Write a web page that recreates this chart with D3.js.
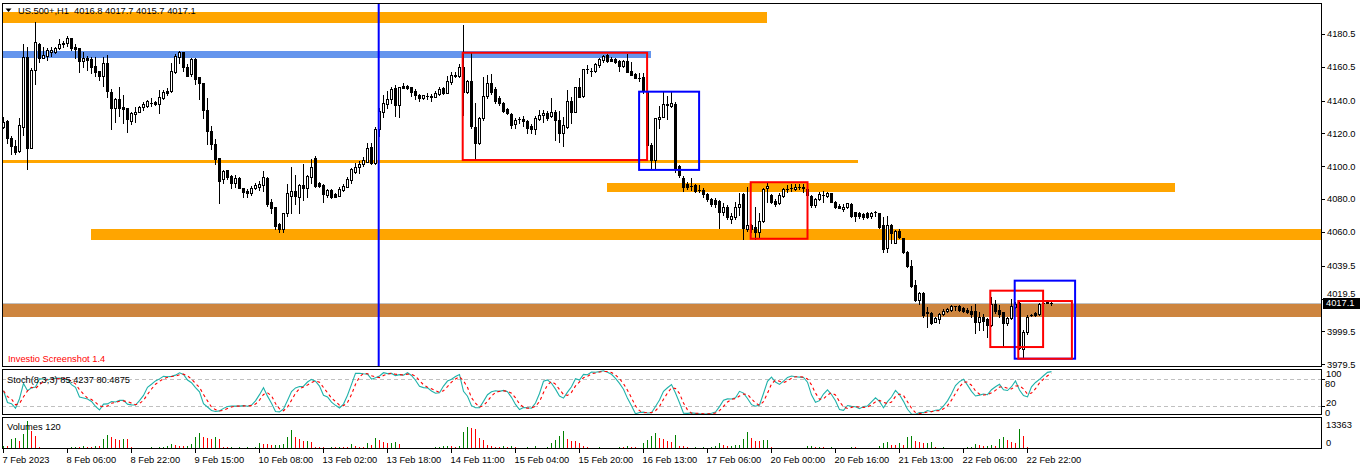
<!DOCTYPE html>
<html><head><meta charset="utf-8">
<script src="https://cdn.jsdelivr.net/npm/d3@7"></script>
<style>
html,body{margin:0;padding:0;background:#fff;}
svg{display:block;font-family:"Liberation Sans",Arial,sans-serif;}
</style></head>
<body><svg id="chart" width="1362" height="470"></svg>
<script>
// ---------------- DATA ----------------
const symbolTitle = "US.500+,H1  4016.8 4017.7 4015.7 4017.1";
const stochTitle = "Stoch(8,3,3) 85.4237 80.4875";
const volumeTitle = "Volumes 120";
const watermark = "Investio Screenshot 1.4";

const opens = [4123.9,4127.6,4117.0,4112.3,4109.3,4124.1,4166.3,4111.3,4158.6,4174.2,
4166.1,4167.3,4169.4,4169.4,4171.8,4174.8,4174.8,4177.9,4172.6,4171.8,
4164.3,4165.9,4165.5,4161.0,4158.0,4154.9,4162.7,4145.4,4135.7,4141.0,
4136.1,4135.3,4127.6,4132.0,4133.2,4136.1,4136.9,4138.5,4138.9,4138.1,
4141.7,4145.8,4145.8,4157.6,4166.7,4169.4,4160.6,4156.0,4165.3,4154.1,
4150.9,4134.3,4121.7,4113.6,4104.9,4092.1,4097.8,4094.1,4089.7,4093.1,
4087.0,4085.1,4083.9,4087.0,4087.6,4088.8,4092.7,4078.1,4075.0,4064.9,
4061.6,4071.4,4081.9,4085.1,4081.5,4088.4,4087.0,4093.7,4104.9,4089.7,
4088.6,4082.5,4085.6,4083.0,4081.9,4085.6,4087.6,4091.7,4096.7,4099.6,
4101.4,4102.8,4111.9,4101.8,4122.5,4133.2,4137.9,4141.0,4147.5,4137.3,
4148.9,4149.0,4148.1,4146.0,4143.4,4141.8,4142.6,4143.0,4142.4,4144.0,
4147.5,4144.8,4151.5,4155.1,4155.1,4160.6,4145.0,4151.9,4123.7,4114.0,
4129.2,4142.8,4150.9,4146.9,4141.4,4138.7,4134.7,4131.8,4125.5,4128.6,
4128.6,4127.6,4124.5,4122.5,4128.8,4131.0,4132.6,4130.6,4132.9,4128.2,
4120.4,4124.1,4139.7,4133.2,4148.1,4142.8,4158.9,4158.1,4158.2,4161.6,
4164.7,4167.7,4165.3,4165.3,4164.3,4161.0,4164.1,4158.0,4156.2,4153.9,
4154.5,4146.0,4113.0,4103.8,4128.8,4130.2,4137.7,4136.9,4137.9,4100.2,
4093.1,4089.0,4088.2,4088.6,4085.6,4085.6,4083.0,4080.1,4079.5,4078.9,
4072.4,4075.4,4067.9,4069.3,4075.0,4083.0,4061.8,4064.3,4063.2,4059.8,
4066.7,4086.6,4082.5,4079.1,4077.5,4081.9,4086.2,4086.8,4086.0,4087.5,
4087.6,4086.0,4081.9,4076.4,4080.1,4082.4,4082.1,4083.6,4078.5,4076.0,
4074.0,4075.4,4076.9,4072.0,4071.4,4070.8,4071.4,4069.8,4071.9,4071.4,
4064.3,4050.5,4064.3,4053.5,4060.8,4056.2,4048.0,4039.5,4027.8,4018.6,
4022.7,4011.5,4010.9,4005.4,4006.9,4009.9,4011.9,4012.5,4014.9,4015.0,
4013.6,4012.5,4011.9,4011.9,4005.4,4008.5,4006.9,4003.4,4016.0,4012.5,
4011.2,4004.5,4007.5,4014.6,4016.6,3988.8,3999.0,4009.4,4010.5,4009.9,
4016.9,4017.1,4016.8];

const highs = [4129.8,4128.0,4118.4,4116.0,4129.2,4174.2,4172.4,4159.6,4187.6,4174.8,
4172.4,4171.8,4172.6,4172.6,4177.5,4176.2,4179.5,4178.3,4174.2,4171.8,
4169.5,4166.9,4166.3,4166.3,4158.0,4166.5,4167.5,4147.0,4141.8,4148.4,
4143.4,4135.3,4133.2,4135.9,4136.9,4139.3,4140.3,4141.4,4139.9,4146.4,
4146.4,4147.5,4163.0,4168.2,4170.2,4169.7,4162.1,4165.7,4165.7,4154.5,
4150.9,4141.4,4124.5,4116.4,4104.9,4097.8,4097.8,4094.7,4094.7,4093.7,
4087.0,4086.0,4088.2,4089.7,4090.9,4097.3,4093.7,4079.9,4075.0,4065.3,
4071.4,4089.2,4099.8,4094.7,4089.0,4101.2,4094.7,4104.4,4106.3,4090.6,
4089.2,4086.0,4086.0,4083.6,4087.6,4089.0,4093.7,4099.2,4101.8,4103.2,
4105.7,4114.4,4114.0,4123.7,4135.3,4143.4,4145.8,4148.1,4149.5,4148.4,
4150.9,4149.5,4148.4,4146.9,4144.0,4143.6,4144.4,4144.0,4145.6,4148.4,
4148.4,4154.9,4157.6,4157.2,4162.2,4186.0,4152.3,4169.4,4138.3,4130.0,
4154.5,4155.6,4156.2,4148.4,4142.8,4139.1,4135.5,4132.3,4129.2,4129.8,
4130.6,4128.2,4125.7,4130.6,4134.3,4134.3,4133.6,4141.4,4134.3,4133.8,
4130.2,4146.4,4142.4,4148.4,4153.9,4159.4,4161.6,4159.6,4163.0,4165.7,
4167.7,4168.1,4166.7,4165.7,4164.7,4164.7,4168.3,4163.6,4156.6,4156.6,
4156.6,4147.5,4114.0,4129.6,4136.9,4145.4,4142.8,4145.4,4139.3,4100.8,
4094.3,4090.6,4092.7,4089.0,4088.6,4086.8,4083.6,4080.7,4080.5,4079.5,
4077.5,4076.4,4071.4,4078.5,4083.6,4083.6,4087.6,4064.6,4075.4,4071.4,
4086.6,4090.6,4083.1,4080.1,4083.6,4086.6,4088.6,4089.0,4089.2,4089.0,
4089.0,4086.2,4082.5,4080.9,4084.2,4085.0,4084.5,4083.9,4078.9,4076.9,
4076.9,4077.8,4077.5,4072.4,4072.4,4071.4,4072.4,4072.4,4072.8,4071.8,
4069.3,4069.8,4064.6,4061.2,4061.7,4056.5,4048.6,4043.0,4030.8,4023.7,
4023.3,4014.6,4011.5,4008.5,4010.5,4013.0,4013.6,4015.6,4015.0,4015.6,
4014.6,4013.6,4015.0,4016.0,4011.5,4009.9,4007.5,4020.3,4018.6,4015.6,
4011.5,4008.5,4019.1,4017.6,4017.6,4000.4,4009.5,4010.1,4011.5,4016.6,
4018.0,4018.6,4017.7];

const lows = [4123.3,4114.4,4107.3,4107.3,4108.9,4119.0,4098.2,4110.9,4149.9,4163.6,
4166.1,4164.7,4167.3,4168.8,4171.2,4172.8,4173.2,4171.0,4166.1,4157.2,
4160.6,4158.6,4157.0,4155.1,4152.5,4148.9,4142.0,4122.7,4127.1,4130.8,
4126.5,4121.1,4125.7,4127.1,4133.2,4134.4,4136.3,4136.9,4137.3,4132.6,
4140.8,4143.4,4145.4,4157.0,4162.7,4158.0,4155.1,4155.1,4149.9,4141.0,
4129.6,4113.4,4110.5,4101.4,4077.9,4089.7,4092.1,4086.6,4087.6,4087.0,
4081.5,4081.5,4082.5,4086.2,4085.6,4085.0,4076.0,4071.4,4061.8,4060.2,
4060.2,4069.9,4071.4,4077.0,4071.8,4079.5,4081.5,4089.7,4087.6,4087.2,
4078.5,4081.5,4080.9,4081.1,4081.9,4085.2,4087.2,4089.7,4095.7,4095.7,
4100.2,4102.6,4101.4,4101.4,4118.4,4130.2,4135.3,4138.7,4130.6,4130.2,
4147.5,4147.3,4142.8,4141.0,4139.7,4140.8,4140.8,4139.9,4142.0,4143.4,
4144.0,4144.4,4149.9,4154.2,4154.5,4131.2,4144.6,4123.3,4103.8,4113.6,
4128.2,4141.4,4144.0,4138.3,4137.3,4133.0,4131.8,4123.5,4123.1,4126.2,
4124.5,4120.4,4120.1,4119.5,4128.2,4127.1,4128.2,4130.2,4116.0,4115.0,
4112.4,4123.5,4126.2,4133.2,4142.0,4142.4,4156.6,4155.1,4157.6,4160.6,
4163.6,4163.6,4164.0,4163.0,4158.0,4160.6,4157.2,4155.4,4153.5,4152.1,
4144.8,4111.9,4098.4,4099.2,4123.5,4130.0,4128.8,4136.3,4096.7,4093.7,
4085.0,4086.0,4085.6,4084.5,4084.5,4081.3,4078.9,4075.8,4075.4,4062.3,
4070.4,4067.9,4065.3,4067.9,4070.4,4055.8,4060.6,4060.2,4055.6,4057.2,
4066.3,4078.5,4077.5,4076.0,4076.9,4081.5,4084.5,4085.0,4085.6,4086.0,
4084.2,4081.5,4075.4,4075.4,4079.5,4078.5,4081.5,4078.1,4074.4,4074.4,
4073.0,4074.4,4069.0,4066.7,4068.4,4067.9,4068.4,4068.4,4069.8,4062.3,
4047.7,4047.7,4053.5,4053.1,4056.5,4047.1,4038.9,4026.4,4018.0,4016.2,
4008.5,4002.0,4004.0,4005.1,4004.8,4009.5,4011.5,4011.9,4012.5,4012.1,
4011.2,4010.5,4008.5,3998.4,4000.4,4000.4,3996.3,4002.8,4010.5,4008.1,
3990.2,4003.4,4006.9,4013.6,3988.8,3983.2,3997.9,4008.9,4008.9,4009.5,
4015.6,4016.6,4015.7];

const closes = [4126.8,4117.0,4112.3,4108.9,4125.1,4166.3,4110.9,4158.6,4175.4,4165.7,
4167.7,4170.6,4170.8,4171.8,4174.6,4174.7,4177.9,4171.8,4171.2,4164.3,
4166.1,4164.9,4160.6,4157.2,4154.9,4162.7,4145.8,4135.7,4141.0,4135.7,
4135.0,4128.6,4132.3,4133.2,4136.3,4137.7,4139.7,4138.4,4138.1,4142.2,
4145.4,4144.4,4158.0,4167.1,4169.7,4160.6,4155.1,4165.3,4153.3,4150.5,
4134.3,4121.7,4113.4,4104.4,4091.2,4096.9,4093.7,4089.7,4093.1,4087.0,
4084.5,4083.9,4087.0,4088.8,4089.4,4093.7,4077.0,4074.8,4063.9,4061.6,
4071.4,4083.6,4085.1,4081.9,4088.6,4087.0,4094.1,4099.4,4088.2,4088.2,
4083.0,4085.6,4081.1,4081.5,4086.0,4088.2,4092.3,4098.4,4099.8,4101.4,
4103.8,4110.9,4102.2,4122.7,4133.6,4138.3,4141.0,4147.0,4137.3,4148.1,
4147.8,4147.5,4145.0,4143.4,4141.8,4143.2,4143.0,4142.0,4144.8,4147.0,
4144.8,4151.9,4155.6,4155.3,4160.6,4145.0,4151.9,4124.5,4114.0,4129.2,
4142.9,4150.5,4145.4,4139.7,4138.3,4133.6,4132.3,4125.1,4128.2,4128.5,
4127.6,4123.6,4122.5,4129.2,4131.2,4132.3,4129.6,4132.9,4128.2,4120.4,
4125.1,4139.7,4133.2,4148.1,4142.4,4159.0,4159.0,4158.2,4162.3,4165.1,
4167.1,4164.3,4164.3,4163.6,4161.0,4164.1,4157.6,4155.6,4153.9,4154.0,
4146.0,4113.0,4103.8,4129.2,4130.2,4137.7,4137.1,4138.7,4099.2,4094.7,
4087.6,4087.6,4088.3,4085.0,4085.7,4083.0,4080.1,4076.9,4076.9,4072.0,
4075.4,4069.3,4069.8,4075.4,4077.0,4062.3,4064.3,4061.8,4059.8,4066.7,
4086.2,4088.0,4078.5,4077.2,4082.5,4086.0,4086.3,4087.0,4087.6,4087.6,
4087.0,4082.5,4076.4,4080.1,4082.9,4082.5,4083.9,4078.5,4075.2,4074.8,
4075.4,4077.5,4069.8,4069.8,4069.9,4069.3,4069.0,4071.8,4072.0,4063.2,
4049.7,4064.3,4059.2,4060.6,4057.2,4047.7,4039.5,4027.3,4018.6,4022.7,
4009.5,4010.5,4004.8,4007.5,4009.9,4011.9,4013.0,4015.0,4015.0,4012.5,
4011.9,4011.2,4010.1,4005.4,4008.5,4006.0,4003.4,4016.0,4011.9,4010.1,
4004.5,4007.9,4015.0,4016.0,3989.2,3999.0,4008.5,4009.5,4009.5,4016.0,
4017.0,4017.2,4017.1];

const volumes = [1431,1193,4770,5104,3816,7155,13363,8252,5867,716,
477,490,470,510,382,477,450,716,954,811,
1193,954,716,1431,1193,4770,6678,5581,4627,4293,
4770,4627,716,477,572,477,620,716,620,954,
980,1431,2385,1908,1431,1193,1431,2385,5724,7632,
5581,5104,4770,5724,4770,954,716,730,572,716,
572,716,477,716,2862,2528,2242,1908,1950,2051,
2528,5581,9063,5581,4627,3816,3850,3482,954,716,
716,620,811,716,954,716,716,2385,1431,1097,
811,2862,1908,5247,4293,3482,2719,3005,3482,2385,
477,620,477,572,477,572,477,490,716,811,
1431,1450,1400,716,1431,8109,10494,10017,9540,5247,
4293,1908,1431,1097,954,1288,716,1193,716,477,
620,954,620,1193,620,477,716,2719,4293,6201,
8252,4627,3959,3673,2719,1193,716,477,620,716,
700,572,477,620,954,716,1193,954,716,620,
2719,4293,6201,7489,5104,4627,3959,3339,6678,1431,
1193,716,620,811,620,716,620,811,1193,2719,
1908,1431,1450,1670,1908,4770,7775,5390,3959,3673,
4293,4436,716,620,477,620,382,477,382,390,
477,1193,1431,954,1097,811,620,716,620,477,
620,477,954,811,477,620,477,620,477,1193,
3005,3050,1908,1765,2719,2051,5581,6201,3816,3482,
2719,3005,3482,716,620,716,572,620,477,620,
572,716,954,2385,1765,1431,1574,1908,1193,4770,
5581,4293,3482,3005,9540,6201,954,572,477,620,
382,334,239];

// time axis labels (one every 16 bars)
const timeLabels = ["7 Feb 2023","8 Feb 06:00","8 Feb 22:00","9 Feb 15:00","10 Feb 08:00",
"13 Feb 02:00","13 Feb 18:00","14 Feb 11:00","15 Feb 04:00","15 Feb 20:00","16 Feb 13:00",
"17 Feb 06:00","20 Feb 00:00","20 Feb 16:00","21 Feb 13:00","22 Feb 06:00","22 Feb 22:00"];
const labelEvery = 16;

// price axis labels
const priceTicks = [4180.5,4160.5,4140.0,4120.0,4100.0,4080.0,4060.0,4039.5,4019.5,3999.5,3979.5];
const lastPrice = 4017.1;
const stochLevels = [20, 80];
const stochAxisLabels = [100, 80, 20, 0];
const volumeTicks = [13363, 0];

// drawn objects: [bar from, bar to], [price top, price bottom]
const zoneBars   = [[-0.4,190.9],[-0.4,161.9],[-0.4,213.6],[21.9,330],[150.9,292.9],[-0.4,330]];
const zonePrices = [[4194.0,4187.4],[4170.3,4166.1],[4103.8,4102.0],[4061.8,4055.2],[4089.7,4084.5],[4016.2,4008.5]];
const zoneKinds  = ["orange","blue","orange","orange","orange","peru"];
const boxBars    = [[114.8,160.9],[158.9,173.9],[186.8,201.0],[246.7,259.9],[252.8,267.9],[253.7,267.1]];
const boxPrices  = [[4169.1,4103.8],[4145.4,4097.8],[4090.3,4055.9],[4024.3,3990.0],[4030.4,3982.9],[4018.0,3982.9]];
const boxKinds   = ["red","blue","red","red","blue","red"];
const vLineBar = 93.8;

// ---------------- STYLE ----------------
const zoneColor = {orange:"#FFA500", blue:"#6495ED", peru:"#CD853F"};
const boxColor = {red:"#FF0000", blue:"#0000FF"};
const FS = 9.3;

// ---------------- DRAW ----------------
const svg = d3.select("#chart");
const n = closes.length;
const P = {l:2, r:1321, mt:3, mb:367, st:369, sb:415, vt:417, vb:449};

const x = d3.scaleLinear().domain([0, n-1]).range([3.5, 3.5 + 4*(n-1)]);
const y = d3.scaleLinear().domain([3979.5, 4180.5]).range([364.3, 34]);
const ys = d3.scaleLinear().domain([0, 100]).range([415, 370]);
const yv = d3.scaleLinear().domain([0, 13363]).range([449, 420.5]);

svg.append("rect").attr("width",1362).attr("height",470).attr("fill","#fff");

const defs = svg.append("defs");
defs.append("clipPath").attr("id","cm").append("rect")
  .attr("x",P.l+0.5).attr("y",P.mt+0.5).attr("width",P.r-P.l-0.5).attr("height",P.mb-P.mt-0.5);
defs.append("clipPath").attr("id","cs").append("rect")
  .attr("x",P.l+0.5).attr("y",P.st+0.5).attr("width",P.r-P.l-0.5).attr("height",P.sb-P.st-0.5);
defs.append("clipPath").attr("id","cv").append("rect")
  .attr("x",P.l+0.5).attr("y",P.vt+0.5).attr("width",P.r-P.l-0.5).attr("height",P.vb-P.vt);

// ----- main panel -----
const main = svg.append("g").attr("clip-path","url(#cm)");
main.append("g").attr("shape-rendering","crispEdges").selectAll("rect")
  .data(zoneBars.map((b,i)=>({b, p:zonePrices[i], k:zoneKinds[i]})))
  .join("rect")
  .attr("x", d=>Math.round(x(d.b[0])))
  .attr("width", d=>Math.round(x(d.b[1]))-Math.round(x(d.b[0])))
  .attr("y", d=>Math.round(y(d.p[0])))
  .attr("height", d=>Math.round(y(d.p[1]))-Math.round(y(d.p[0])))
  .attr("fill", d=>zoneColor[d.k]);

main.append("line").attr("x1",P.l).attr("x2",P.r)
  .attr("y1",Math.round(y(lastPrice))+0.5).attr("y2",Math.round(y(lastPrice))+0.5)
  .attr("stroke","#C0C0C0").attr("stroke-width",1);

const bars = d3.range(n).map(i=>({i,o:opens[i],h:highs[i],l:lows[i],c:closes[i]}));
const cg = main.append("g").attr("shape-rendering","crispEdges");
const snap = v => Math.round(v)+0.5;
cg.selectAll("line.w").data(bars).join("line").attr("class","w")
  .attr("x1",d=>x(d.i)).attr("x2",d=>x(d.i))
  .attr("y1",d=>snap(y(d.h))-0.5).attr("y2",d=>snap(y(d.l))+0.5)
  .attr("stroke","#000").attr("stroke-width",1);
bars.forEach(d=>{
  const t = snap(y(Math.max(d.o,d.c))), b = snap(y(Math.min(d.o,d.c)));
  if (b - t < 1) {
    cg.append("line").attr("x1",x(d.i)-1.5).attr("x2",x(d.i)+1.5)
      .attr("y1",t).attr("y2",t).attr("stroke","#000");
  } else {
    cg.append("rect").attr("x",x(d.i)-1).attr("width",2)
      .attr("y",t).attr("height",b-t)
      .attr("fill", d.c>=d.o ? "#fff" : "#000").attr("stroke","#000").attr("stroke-width",1);
  }
});

main.append("line").attr("x1",x(vLineBar)).attr("x2",x(vLineBar))
  .attr("y1",P.mt).attr("y2",P.mb).attr("stroke","#0000FF").attr("stroke-width",2);

main.append("g").selectAll("rect")
  .data(boxBars.map((b,i)=>({b, p:boxPrices[i], k:boxKinds[i]})))
  .join("rect")
  .attr("x", d=>x(d.b[0])).attr("width", d=>x(d.b[1])-x(d.b[0]))
  .attr("y", d=>y(d.p[0])).attr("height", d=>y(d.p[1])-y(d.p[0]))
  .attr("fill","none").attr("stroke", d=>boxColor[d.k]).attr("stroke-width",2);

svg.append("path").attr("d","M5.5,8.5 L11.5,8.5 L8.5,12 Z").attr("fill","#000");
svg.append("text").attr("x",18).attr("y",13.5).attr("font-size",FS)
  .attr("xml:space","preserve").style("white-space","pre").text(symbolTitle);
svg.append("text").attr("x",8).attr("y",361.5).attr("font-size",FS).attr("fill","#FF0000").text(watermark);

// ----- stochastic (computed from the OHLC arrays) -----
function stochastic(kp, slow, dp){
  const K = new Array(n).fill(null), D = new Array(n).fill(null);
  for (let i=0;i<n;i++){
    let num=0, den=0;
    for (let j=Math.max(0,i-slow+1); j<=i; j++){
      const s = Math.max(0,j-kp+1);
      const ll = d3.min(lows.slice(s,j+1)), hh = d3.max(highs.slice(s,j+1));
      num += closes[j]-ll; den += hh-ll;
    }
    K[i] = den===0 ? 50 : num/den*100;
  }
  for (let i=0;i<n;i++){
    const s = Math.max(0,i-dp+1);
    D[i] = d3.mean(K.slice(s,i+1));
  }
  return {K,D};
}
const st = stochastic(8,3,3);
const sg = svg.append("g").attr("clip-path","url(#cs)");
sg.selectAll("line.lvl").data(stochLevels).join("line").attr("class","lvl")
  .attr("x1",P.l).attr("x2",P.r).attr("y1",d=>Math.round(ys(d))+0.5).attr("y2",d=>Math.round(ys(d))+0.5)
  .attr("stroke","#C0C0C0").attr("stroke-dasharray","4,3");
const sline = arr => d3.line().x((d,i)=>x(i)).y(d=>ys(d))(arr);
sg.append("path").attr("d",sline(st.K)).attr("fill","none").attr("stroke","#20B2AA").attr("stroke-width",1.1);
sg.append("path").attr("d",sline(st.D)).attr("fill","none").attr("stroke","#FF0000").attr("stroke-width",1.1).attr("stroke-dasharray","3,3");
svg.append("text").attr("x",7).attr("y",382.5).attr("font-size",FS).text(stochTitle);

// ----- volumes -----
const vg = svg.append("g").attr("clip-path","url(#cv)").attr("shape-rendering","crispEdges");
vg.selectAll("line").data(volumes).join("line")
  .attr("x1",(d,i)=>x(i)).attr("x2",(d,i)=>x(i))
  .attr("y1",P.vb).attr("y2",d=>Math.min(P.vb-1, Math.round(yv(d))))
  .attr("stroke",(d,i)=> (i===0 || d>volumes[i-1]) ? "#008000" : "#FF0000");
svg.append("text").attr("x",7).attr("y",430).attr("font-size",FS).text(volumeTitle);

// ----- frames -----
const fr = svg.append("g").attr("fill","none").attr("stroke","#000").attr("shape-rendering","crispEdges");
[[P.mt,P.mb],[P.st,P.sb],[P.vt,P.vb]].forEach(([t,b])=>{
  fr.append("rect").attr("x",P.l+0.5).attr("y",t+0.5).attr("width",P.r-P.l).attr("height",b-t-1);
});

// ----- price axis -----
const ax = svg.append("g").attr("font-size",FS);
ax.selectAll("line").data(priceTicks).join("line")
  .attr("x1",P.r+0.5).attr("x2",P.r+4).attr("y1",d=>Math.round(y(d))+0.5).attr("y2",d=>Math.round(y(d))+0.5)
  .attr("stroke","#000").attr("shape-rendering","crispEdges");
// the label that sits under the current-price box is nudged up so it peeks out above it
ax.selectAll("text").data(priceTicks).join("text")
  .attr("x",P.r+6).attr("y",d=> Math.abs(d-lastPrice)<4 ? y(d)-1.5 : y(d)+3.3).text(d=>d.toFixed(1));
svg.append("rect").attr("x",P.r+2).attr("y",Math.round(y(lastPrice))-5).attr("width",37).attr("height",11).attr("fill","#000");
svg.append("text").attr("x",P.r+5).attr("y",y(lastPrice)+3.5).attr("font-size",FS).attr("fill","#fff").text(lastPrice.toFixed(1));

// stoch axis labels
const stLabPos = {100:[1326,376.5], 80:[1325,386.5], 20:[1326,405.5], 0:[1325,415.5]};
svg.append("g").attr("font-size",FS).selectAll("text").data(stochAxisLabels).join("text")
  .attr("x",d=>stLabPos[d][0]).attr("y",d=>stLabPos[d][1]).text(d=>d);
svg.append("g").selectAll("line").data(stochLevels).join("line")
  .attr("x1",P.r+0.5).attr("x2",P.r+4).attr("y1",d=>Math.round(ys(d))+0.5).attr("y2",d=>Math.round(ys(d))+0.5)
  .attr("stroke","#000").attr("shape-rendering","crispEdges");
svg.append("g").attr("font-size",FS).selectAll("text").data(volumeTicks).join("text")
  .attr("x",1326).attr("y",(d,i)=> i===0 ? 428 : 446).text(d=>d);

// ----- time axis -----
const tg = svg.append("g").attr("font-size",FS);
tg.selectAll("line").data(timeLabels).join("line")
  .attr("x1",(d,i)=>x(i*labelEvery)).attr("x2",(d,i)=>x(i*labelEvery))
  .attr("y1",P.vb).attr("y2",P.vb+4).attr("stroke","#000").attr("shape-rendering","crispEdges");
tg.selectAll("text").data(timeLabels).join("text")
  .attr("x",(d,i)=>x(i*labelEvery)-1).attr("y",462.5).text(d=>d);
</script></body></html>
